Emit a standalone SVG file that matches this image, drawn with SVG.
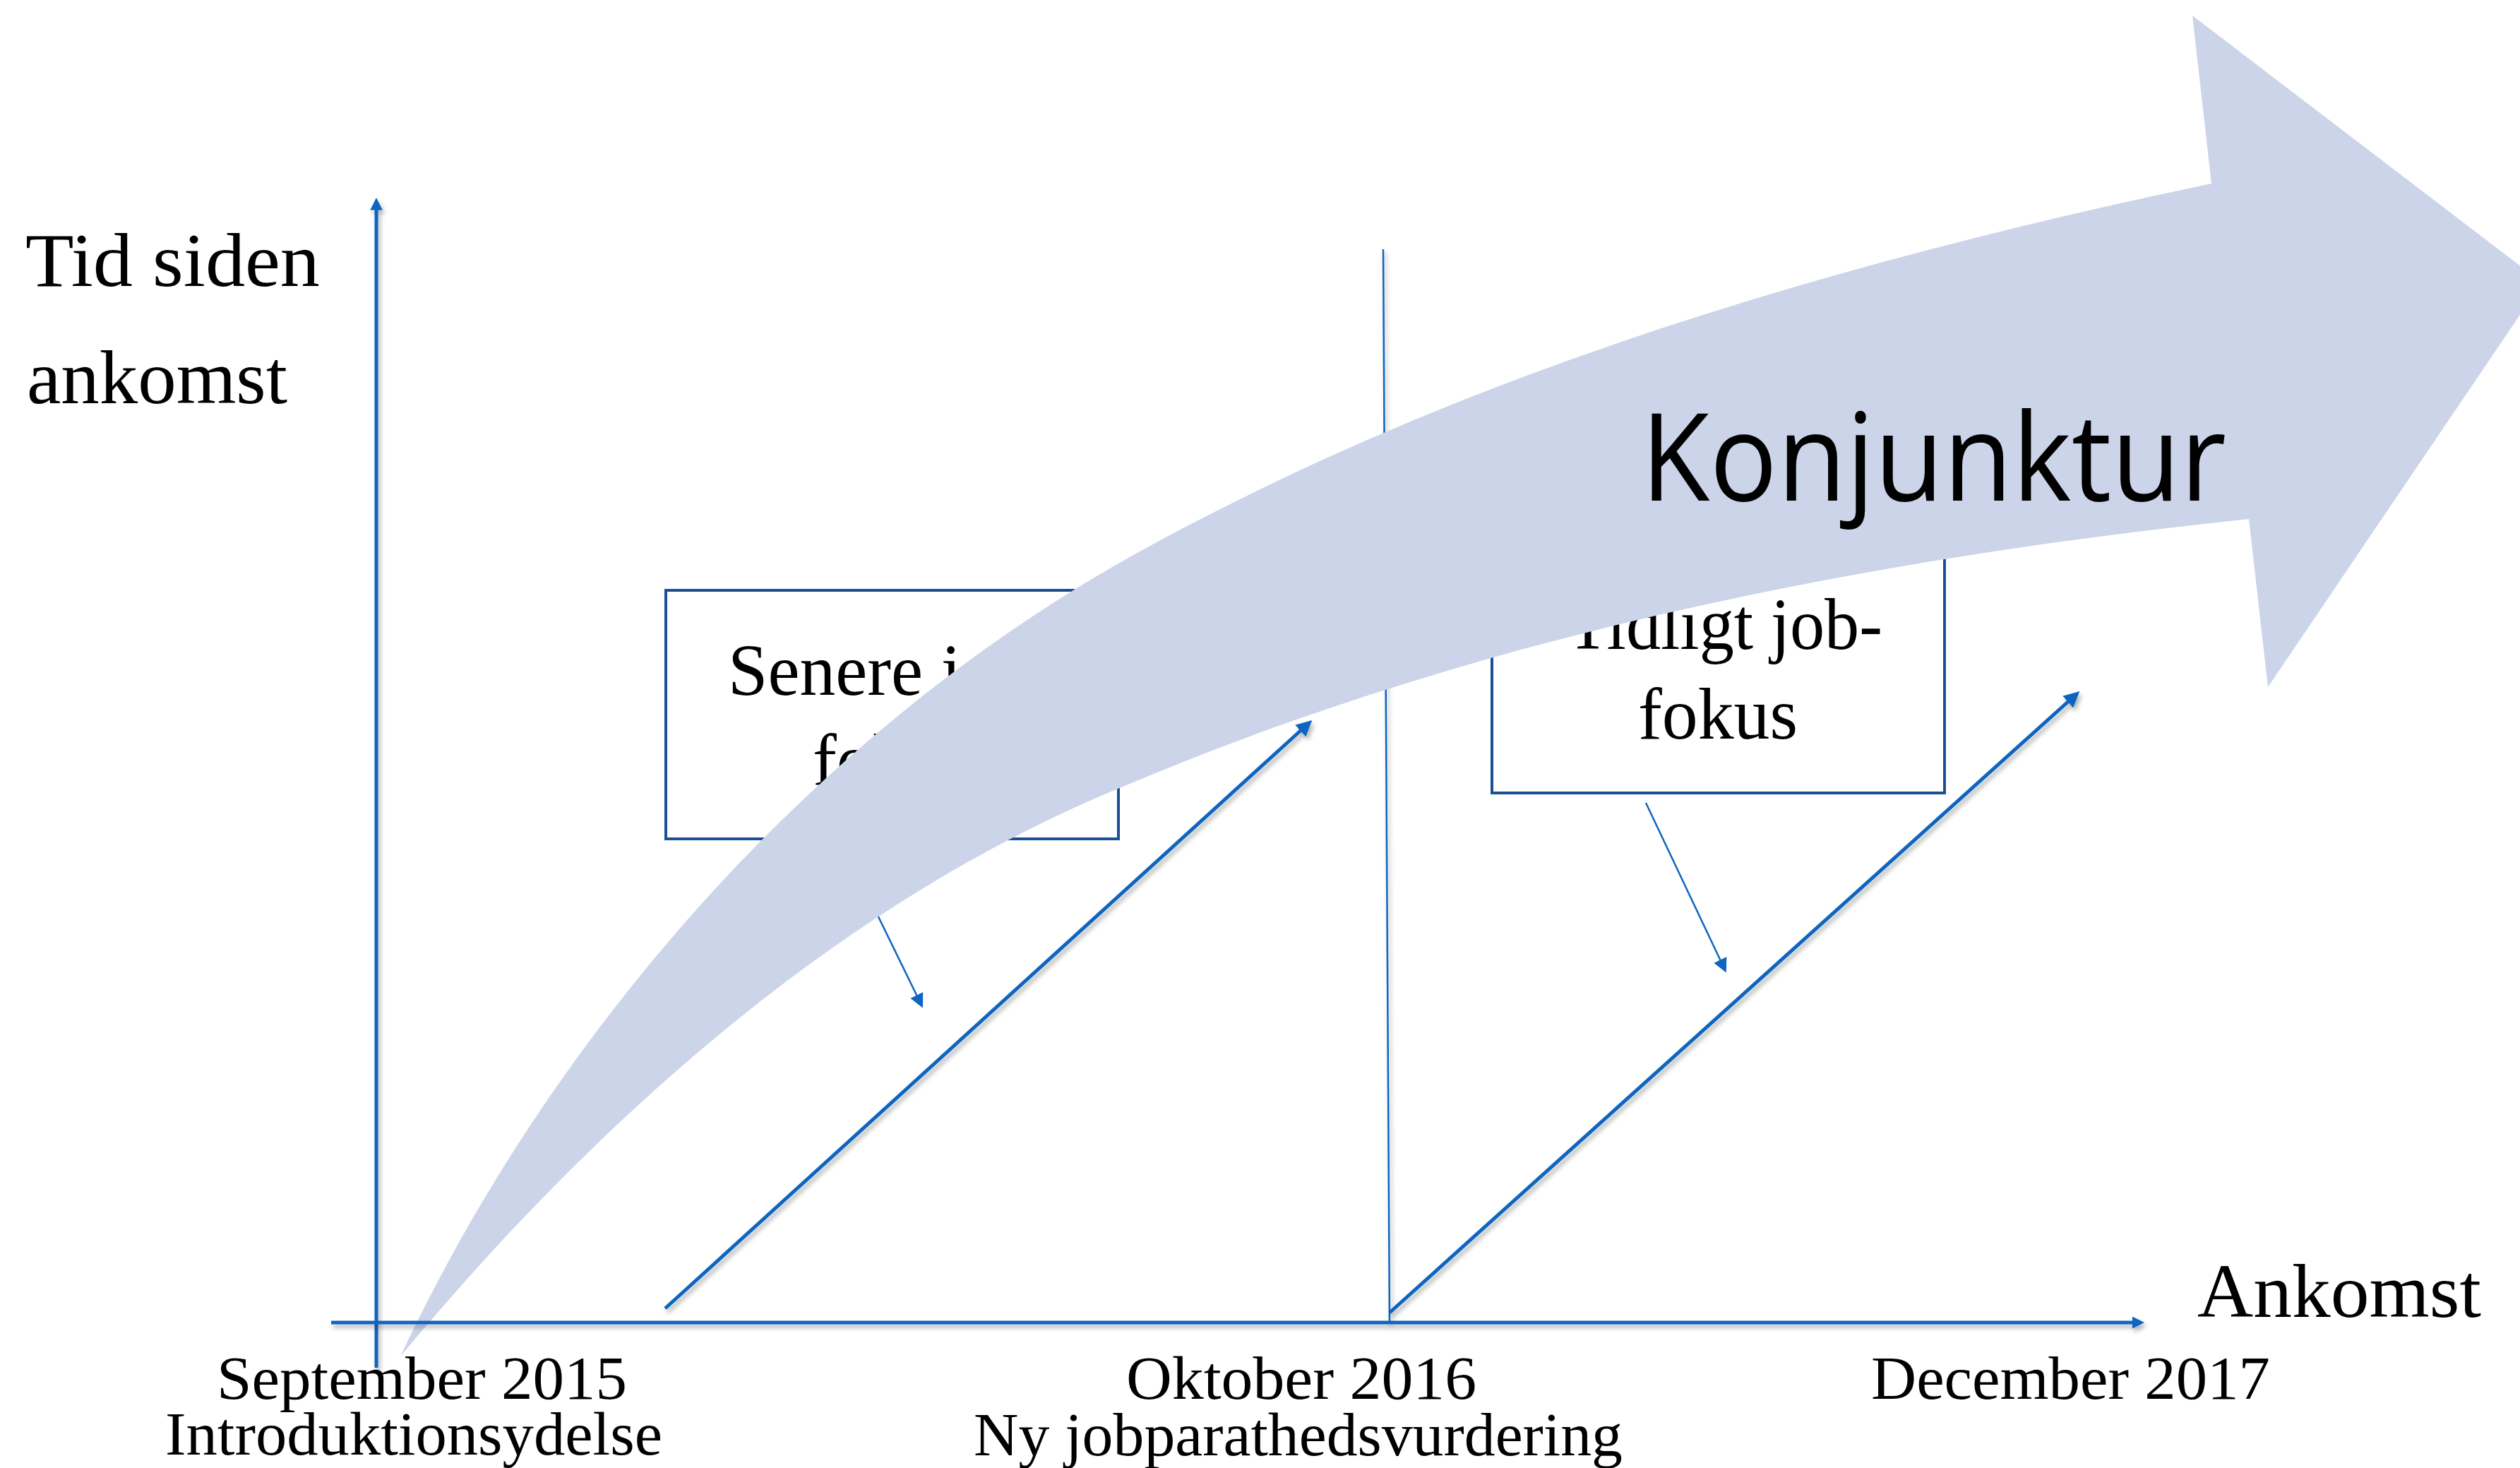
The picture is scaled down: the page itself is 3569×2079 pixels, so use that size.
<svg xmlns="http://www.w3.org/2000/svg" width="3569" height="2079" viewBox="0 0 3569 2079">
<style>
.lbl{font-family:"Liberation Serif","Times New Roman",serif;fill:#000}
.ax{stroke:#0F65C0;fill:none;stroke-linecap:butt}
.box{fill:#fff;stroke:#1B4F93;stroke-width:4}
.big{fill:#CBD4E8}
</style>
<defs>
<filter id="sh" filterUnits="userSpaceOnUse" x="0" y="0" width="3569" height="2079">
<feDropShadow dx="3" dy="5" stdDeviation="3" flood-color="#000" flood-opacity="0.3"/>
</filter>
<marker id="axisHead" viewBox="0 0 10 10" refX="2" refY="5" markerWidth="3.5" markerHeight="3.5" orient="auto" markerUnits="strokeWidth">
<path d="M0,0 L10,5 L0,10 z" fill="#0F65C0"/>
</marker>
<marker id="diagHead" viewBox="0 0 10 10" refX="2" refY="5" markerWidth="4.5" markerHeight="4.5" orient="auto" markerUnits="strokeWidth">
<path d="M0,0 L10,5 L0,10 z" fill="#0F65C0"/>
</marker>
<marker id="smallHead" viewBox="0 0 10 10" refX="2" refY="5" markerWidth="8" markerHeight="8" orient="auto" markerUnits="strokeWidth">
<path d="M0,0 L10,5 L0,10 z" fill="#0F65C0"/>
</marker>
</defs>
<rect width="3569" height="2079" fill="#fff"/>

<g id="axis-labels">
<text class="lbl" x="36" y="405" font-size="108" textLength="417" lengthAdjust="spacingAndGlyphs">Tid siden</text>
<text class="lbl" x="38" y="571" font-size="108" textLength="369" lengthAdjust="spacingAndGlyphs">ankomst</text>
<text class="lbl" x="3112" y="1865" font-size="108" textLength="402" lengthAdjust="spacingAndGlyphs">Ankomst</text>
</g>

<g id="box-senere">
<rect class="box" x="943" y="836" width="641" height="352"/>
<text class="lbl" x="1031" y="984" font-size="104" textLength="465" lengthAdjust="spacingAndGlyphs">Senere job-</text>
<text class="lbl" x="1151" y="1111" font-size="104" textLength="226" lengthAdjust="spacingAndGlyphs">fokus</text>
</g>

<g id="box-tidligt">
<rect class="box" x="2113" y="771" width="641" height="352"/>
<text class="lbl" x="2219" y="919" font-size="104" textLength="447" lengthAdjust="spacingAndGlyphs">Tidligt job-</text>
<text class="lbl" x="2320" y="1046" font-size="104" textLength="226" lengthAdjust="spacingAndGlyphs">fokus</text>
</g>

<g id="connectors">
<path class="ax" filter="url(#sh)" d="M1959,353 L1968,1873" stroke-width="2.5"/>
<path class="ax" filter="url(#sh)" d="M942,1853 L1845,1032" stroke-width="5" marker-end="url(#diagHead)"/>
<path class="ax" filter="url(#sh)" d="M1968,1859 L2932,991" stroke-width="5" marker-end="url(#diagHead)"/>
<path class="ax" d="M1197,1202 L1300,1413" stroke-width="2.5" marker-end="url(#smallHead)"/>
<path class="ax" d="M2331,1137 L2438,1363" stroke-width="2.5" marker-end="url(#smallHead)"/>
</g>

<g id="konjunktur">
<path class="big" d="M567,1921 C787,1453 1163,1029 1616,780 C2084,523 2609,370 3132,260 L3105,22 L3600,400 L3212,973 L3185,735 C2641,792 2094,900 1588,1115 C1187,1280 845,1587 567,1921 Z"/>
<text x="2324" y="709" font-family="'Open Sans','Liberation Sans',sans-serif" font-size="172" fill="#000" textLength="829" lengthAdjust="spacingAndGlyphs">Konjunktur</text>
</g>

<g id="axes">
<path class="ax" filter="url(#sh)" d="M533,1937 L533,294" stroke-width="5" marker-end="url(#axisHead)"/>
<path class="ax" filter="url(#sh)" d="M469,1873 L3023,1873" stroke-width="5" marker-end="url(#axisHead)"/>
</g>

<g id="tick-labels">
<text class="lbl" x="307" y="1981" font-size="86" textLength="581" lengthAdjust="spacingAndGlyphs">September 2015</text>
<text class="lbl" x="234" y="2060" font-size="86" textLength="704" lengthAdjust="spacingAndGlyphs">Introduktionsydelse</text>
<text class="lbl" x="1595" y="1981" font-size="86" textLength="496" lengthAdjust="spacingAndGlyphs">Oktober 2016</text>
<text class="lbl" x="1379" y="2061" font-size="86" textLength="919" lengthAdjust="spacingAndGlyphs">Ny jobparathedsvurdering</text>
<text class="lbl" x="2650" y="1981" font-size="86" textLength="565" lengthAdjust="spacingAndGlyphs">December 2017</text>
</g>
</svg>
